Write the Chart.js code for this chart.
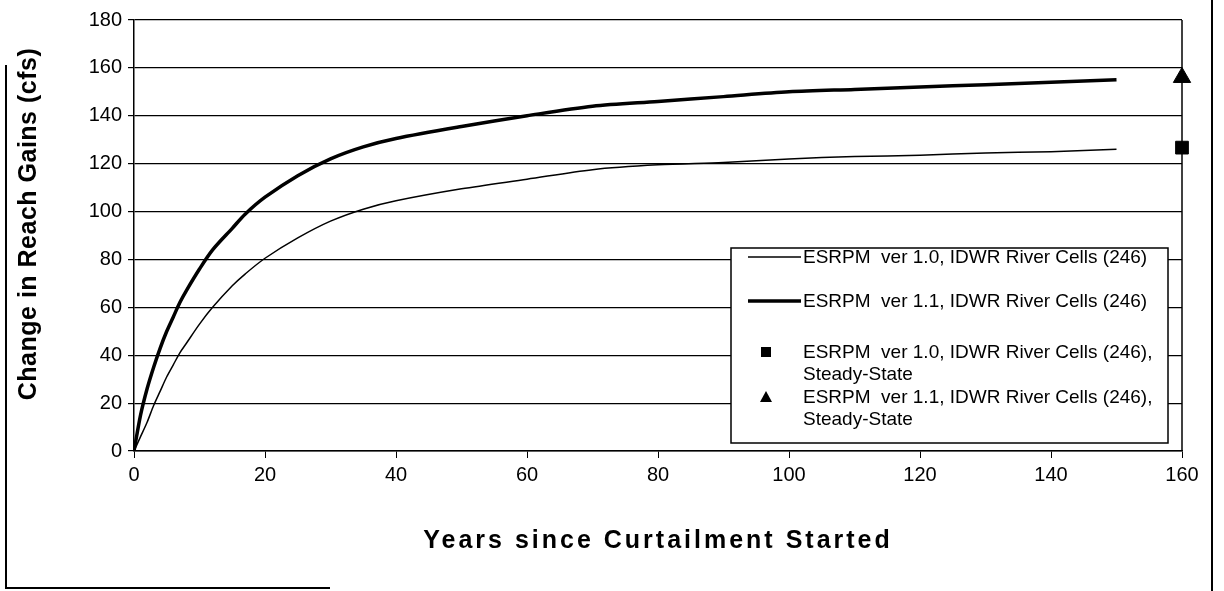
<!DOCTYPE html>
<html>
<head>
<meta charset="utf-8">
<script src="https://cdn.jsdelivr.net/npm/chart.js@4/dist/chart.umd.min.js"></script>
<style>
  html, body { margin: 0; padding: 0; background: #fff; }
  #wrap { width: 1224px; height: 591px; position: relative; }
</style>
</head>
<body>
<div id="wrap"><canvas id="chart" width="1224" height="591"></canvas></div>
<script>
// transient curves
const years = [0, 1, 2, 3, 4, 5, 6, 7, 8, 10, 12, 15, 17, 20, 25, 30, 35, 40, 50, 60, 70, 80, 90, 100, 110, 120, 130, 140, 150];
const ver10 = [0, 6, 12, 19, 25, 31, 36, 41, 45, 53, 60, 69, 74, 80.5, 89, 96, 101, 104.5, 109.5, 113.5, 117.5, 119.5, 120.5, 122, 123, 123.5, 124.5, 125, 126];
const ver11 = [0, 15, 26, 35, 43, 50, 56, 62, 67, 76, 84, 93, 99, 106, 115, 122, 127, 130.5, 135.5, 140, 144, 146, 148, 150, 151, 152, 153, 154, 155];

// steady-state values
const steadyX = 160;
const steady10 = 126.7;
const steady11 = 156;

const labels = [
    ["ESRPM  ver 1.0, IDWR River Cells (246)"],
    ["ESRPM  ver 1.1, IDWR River Cells (246)"],
    ["ESRPM  ver 1.0, IDWR River Cells (246),", "Steady-State"],
    ["ESRPM  ver 1.1, IDWR River Cells (246),", "Steady-State"],
];

const xTitle = "Years since Curtailment Started";
const yTitle = "Change in Reach Gains (cfs)";

const toXY = (xs, ys) => xs.map((x, i) => ({ x: x, y: ys[i] }));

const FONT = "'Liberation Sans', Arial, sans-serif";

// legend box inside the plot area, axis titles and the outer frame
const decorations = {
    id: "decorations",
    afterDatasetsDraw(chart) {
        const ctx = chart.ctx;
        const left = 731, top = 248, right = 1168, bottom = 443;
        ctx.save();
        ctx.fillStyle = "#fff";
        ctx.fillRect(left, top, right - left, bottom - top);
        ctx.strokeStyle = "#000";
        ctx.lineWidth = 1.5;
        ctx.strokeRect(left, top, right - left, bottom - top);
        ctx.font = "19px " + FONT;
        ctx.fillStyle = "#000";
        ctx.textBaseline = "middle";
        const rows = [257, 301, 352, 397];
        chart.data.datasets.forEach((ds, i) => {
            const y = rows[i];
            if (ds.showLine) {
                ctx.beginPath();
                ctx.lineWidth = ds.borderWidth;
                ctx.moveTo(748, y);
                ctx.lineTo(801, y);
                ctx.stroke();
            } else if (ds.pointStyle === "rect") {
                ctx.fillRect(761, y - 5, 10, 10);
            } else {
                ctx.beginPath();
                ctx.moveTo(766, y - 6);
                ctx.lineTo(772, y + 5);
                ctx.lineTo(760, y + 5);
                ctx.closePath();
                ctx.fill();
            }
            ds.label.forEach((t, k) => ctx.fillText(t, 803, y + 1 + k * 22));
        });
        ctx.restore();
    },
    afterDraw(chart) {
        const ctx = chart.ctx;
        const a = chart.chartArea;
        ctx.save();
        ctx.strokeStyle = "#000";
        ctx.lineWidth = 1.5;
        ctx.beginPath();
        ctx.moveTo(a.right, a.top);
        ctx.lineTo(a.right, a.bottom);
        ctx.stroke();
        ctx.lineWidth = 2;
        ctx.beginPath();
        ctx.moveTo(6, 65);
        ctx.lineTo(6, 588);
        ctx.lineTo(330, 588);
        ctx.moveTo(1212, 0);
        ctx.lineTo(1212, 591);
        ctx.stroke();

        // axis titles
        ctx.fillStyle = "#000";
        ctx.textAlign = "center";
        ctx.textBaseline = "middle";
        ctx.font = "bold 25px " + FONT;
        ctx.letterSpacing = "3px";
        ctx.fillText(xTitle, (a.left + a.right) / 2, 541);
        ctx.letterSpacing = "0.5px";
        ctx.font = "bold 25px " + FONT;
        ctx.translate(29, 224);
        ctx.rotate(-Math.PI / 2);
        ctx.fillText(yTitle, 0, 0);
        ctx.restore();
    },
};

new Chart(document.getElementById("chart"), {
    type: "line",
    data: {
        datasets: [
            {
                label: labels[0],
                data: toXY(years, ver10),
                borderColor: "#000",
                borderWidth: 1.5,
                pointRadius: 0,
                tension: 0.3,
                showLine: true,
            },
            {
                label: labels[1],
                data: toXY(years, ver11),
                borderColor: "#000",
                borderWidth: 3.5,
                pointRadius: 0,
                tension: 0.3,
                showLine: true,
            },
            {
                label: labels[2],
                data: [{ x: steadyX, y: steady10 }],
                showLine: false,
                clip: false,
                pointStyle: "rect",
                pointRadius: 9,
                backgroundColor: "#000",
                borderColor: "#000",
            },
            {
                label: labels[3],
                data: [{ x: steadyX, y: steady11 }],
                showLine: false,
                clip: false,
                pointStyle: "triangle",
                pointRadius: 10,
                backgroundColor: "#000",
                borderColor: "#000",
            },
        ],
    },
    options: {
        responsive: false,
        animation: false,
        layout: { padding: { top: 20, right: 42, left: 0, bottom: 0 } },
        scales: {
            x: {
                type: "linear",
                min: 0,
                max: 160,
                ticks: { stepSize: 20, color: "#000", font: { size: 20, family: FONT }, padding: 5 },
                grid: { drawOnChartArea: false, color: "#000", tickLength: 7 },
                border: { color: "#000", width: 1.5 },
                afterFit: (s) => { s.height = 140; },
            },
            y: {
                min: 0,
                max: 180,
                ticks: { stepSize: 20, color: "#000", font: { size: 20, family: FONT }, padding: 6 },
                grid: { color: "#000", lineWidth: 1.2, tickLength: 6 },
                border: { color: "#000", width: 1.5 },
                afterFit: (s) => { s.width = 134; },
            },
        },
        plugins: {
            legend: { display: false },
            tooltip: { enabled: false },
        },
    },
    plugins: [decorations],
});
</script>
</body>
</html>
